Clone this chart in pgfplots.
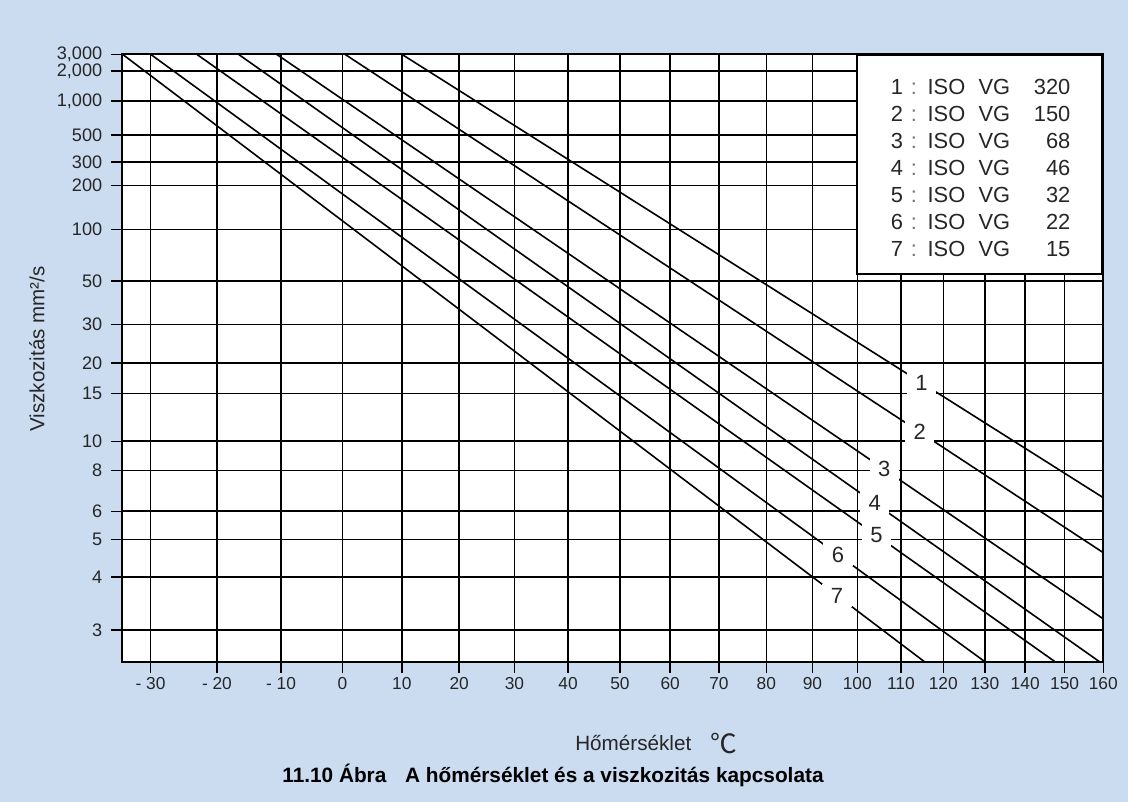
\documentclass[border=0pt]{standalone}
\usepackage{pgfplots}
\pgfplotsset{compat=1.18}
\usepackage{fontspec}
\usepackage{graphicx}
\setmainfont{Liberation Sans}
\newfontfamily\cjk{Noto Sans CJK JP}
\definecolor{bg}{RGB}{203,220,241}
\tikzset{
  plt/.style={black, line width=1.2pt},
  lbl/.style={fill=white, inner sep=0pt, minimum width=22pt, minimum height=17pt,
              font=\fontsize{16.5}{18}\selectfont, text=black!85},
}
\begin{document}
\begin{tikzpicture}
\fill[bg] (0,0) rectangle (846pt,601.5pt);
\begin{axis}[
  at={(91.725pt,105.225pt)}, anchor=south west, scale only axis,
  width=735.75pt, height=455.55pt,
  x coord trafo/.code={\pgfmathparse{ln(#1+273.15)}},
  x coord inv trafo/.code={\pgfmathparse{exp(#1)-273.15}},
  y coord trafo/.code={\pgfmathparse{ln(ln(#1+0.7))}},
  y coord inv trafo/.code={\pgfmathparse{exp(exp(#1))-0.7}},
  xmin=-34.1, xmax=160, ymin=2.57, ymax=3000,
  xtick={-30,-20,-10,0,10,20,30,40,50,60,70,80,90,100,110,120,130,140,150,160},
  xticklabels={- 30,- 20,- 10,0,10,20,30,40,50,60,70,80,90,100,110,120,130,140,150,160},
  ytick={3,4,5,6,8,10,15,20,30,50,100,200,300,500,1000,2000,3000},
  yticklabels={3,4,5,6,8,10,15,20,30,50,100,200,300,500,{1,000},{2,000},{3,000}},
  grid=major, major grid style={black, line width=1.15pt},
  axis line style={line width=1.4pt},
  tick align=outside, tick pos=left,
  major tick length=8.5pt, tick style={black, line width=1.1pt},
  xticklabel style={font=\fontsize{13}{15}\selectfont, text=black!85},
  yticklabel style={font=\fontsize{13.6}{15}\selectfont, text=black!85, xshift=-3pt},
  axis background/.style={fill=white},
]
\addplot[plt] coordinates {(10,3000) (160,6.58)} node[lbl,pos=0.741]{1};
\addplot[plt] coordinates {(0.4,3000) (160,4.61)} node[lbl,pos=0.758]{2};
\addplot[plt] coordinates {(-10.7,3000) (160,3.18)} node[lbl,pos=0.735]{3};
\addplot[plt] coordinates {(-16.7,3000) (159,2.57)} node[lbl,pos=0.739]{4};
\addplot[plt] coordinates {(-23.1,3000) (147.5,2.57)} node[lbl,pos=0.792]{5};
\addplot[plt] coordinates {(-30,3000) (130,2.57)} node[lbl,pos=0.824]{6};
\addplot[plt] coordinates {(-34.1,3000) (115.5,2.57)} node[lbl,pos=0.891]{7};
\node[draw=black, fill=white, line width=1.4pt, anchor=north east, inner sep=0pt,
      minimum width=183.75pt, minimum height=164pt] at (rel axis cs:1,1) {};
\end{axis}
\foreach \k/\n [count=\i from 0] in {1/320,2/150,3/68,4/46,5/32,6/22,7/15}{
  \pgfmathsetmacro\yy{530.55-20.2*\i}
  \begin{scope}[every node/.style={font=\fontsize{16.4}{18}\selectfont, text=black!85, inner sep=0pt}]
  \node[anchor=base west] at (668pt,\yy pt) {\k};
  \node[anchor=base west, text=black!55] at (683pt,\yy pt) {:};
  \node[anchor=base west] at (695.5pt,\yy pt) {ISO};
  \node[anchor=base west] at (733.7pt,\yy pt) {VG};
  \node[anchor=base east] at (803pt,\yy pt) {\n};
  \end{scope}
}
\node[rotate=90, font=\fontsize{15.4}{18}\selectfont, text=black!85] at (27.75pt,339.75pt) {Viszkozitás mm²/s};
\node[anchor=base west, inner sep=0pt, font=\fontsize{15.5}{18}\selectfont, text=black!85] at (431.25pt,38.25pt) {Hőmérséklet};
\node[anchor=base west, inner sep=0pt, font=\cjk\fontsize{20}{21}\selectfont, text=black!85] at (533pt,36.5pt) {℃};
\node[anchor=base, inner sep=0pt, font=\bfseries\fontsize{15.6}{18}\selectfont] at (414.75pt,14.25pt) {11.10 Ábra\hspace{0.9em}A hőmérséklet és a viszkozitás kapcsolata};
\end{tikzpicture}
\end{document}
